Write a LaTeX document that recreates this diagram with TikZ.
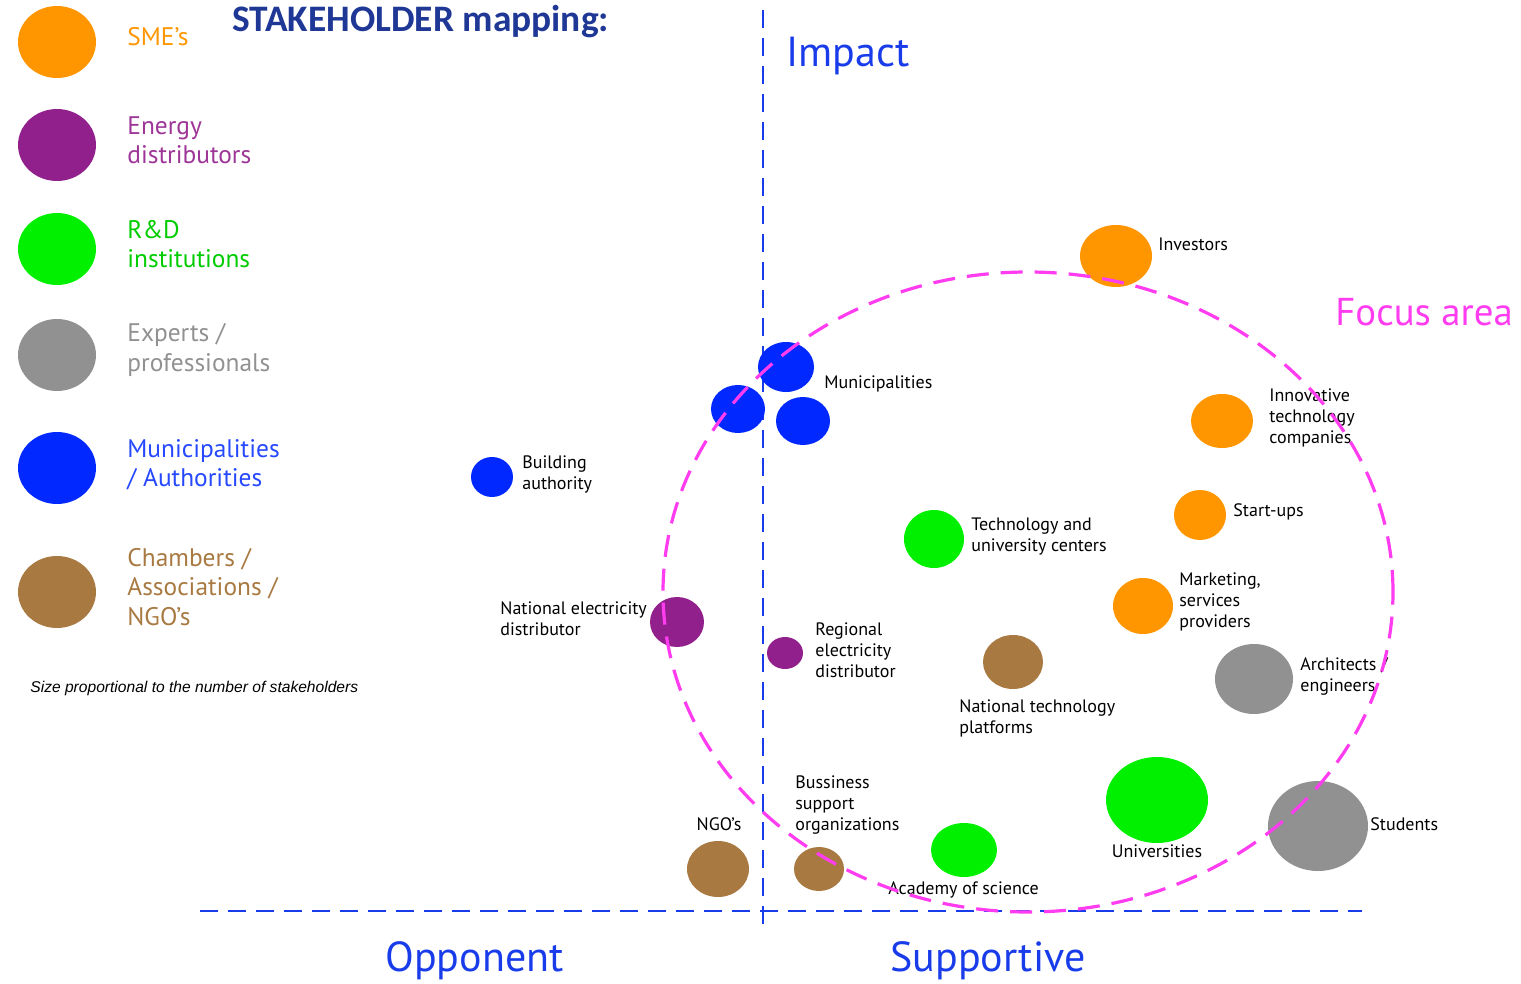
\documentclass[tikz,border=0pt]{standalone}
\usepackage{fontspec}
\setmainfont{PT Sans}
\newfontfamily\titlefont{Carlito}
\newfontfamily\notefont{Liberation Sans}
\usetikzlibrary{shapes.geometric,positioning}
\definecolor{smeorange}{RGB}{255,150,0}
\definecolor{enpurple}{RGB}{146,32,140}
\definecolor{rdgreen}{RGB}{0,240,0}
\definecolor{expgray}{RGB}{145,145,145}
\definecolor{munblue}{RGB}{0,40,255}
\definecolor{chbrown}{RGB}{168,122,66}
\definecolor{axisblue}{RGB}{25,60,235}
\definecolor{titleblue}{RGB}{31,56,150}
\definecolor{focusmag}{RGB}{255,60,240}
\tikzset{
  bub/.style={ellipse, inner sep=0pt, fill=#1},
  sz/.style 2 args={minimum width=#1pt, minimum height=#2pt},
  lbl/.style={anchor=west, align=left, inner sep=0pt, font=\fontsize{9}{10.5}\selectfont},
  legtxt/.style={anchor=west, align=left, inner sep=0pt, text=#1, font=\fontsize{12.7}{14.7}\selectfont},
  axtxt/.style={anchor=west, inner sep=0pt, text=axisblue, font=\fontsize{21}{24}\selectfont},
  axisline/.style={axisblue, line width=1.4pt, dash pattern=on 9pt off 5pt},
}
\begin{document}
\begin{tikzpicture}[x=0.5pt,y=-0.5pt]
\useasboundingbox (0,0) rectangle (1521,984);
% legend
\node[bub=smeorange, sz={39}{36}] (lgsme) at (57,42) {};
\node[bub=enpurple, sz={39}{36}] (lgen) at (57,145) {};
\node[bub=rdgreen, sz={39}{36}] (lgrd) at (57,249) {};
\node[bub=expgray, sz={39}{36}] (lgexp) at (57,355) {};
\node[bub=munblue, sz={39}{36}] (lgmun) at (57,468) {};
\node[bub=chbrown, sz={39}{36}] (lgch) at (57,592) {};
\node[legtxt=smeorange] (tsme) at (127,37) {SME’s};
\node[legtxt=enpurple!90!white] (ten) at (127,140) {Energy\\distributors};
\node[legtxt=rdgreen!85!black] (trd) at (127,244) {R\&D\\institutions};
\node[legtxt=expgray] (texp) at (127,350) {Experts /\\professionals};
\node[legtxt=munblue!85!white] (tmun) at (127,465) {Municipalities\\/ Authorities};
\node[legtxt=chbrown] (tch) at (127,587) {Chambers /\\Associations /\\NGO’s};
\node[anchor=west, inner sep=0pt, font=\notefont\itshape\fontsize{7.8}{9}\selectfont] (note) at (30,688) {Size proportional to the number of stakeholders};
\node[anchor=west, inner sep=0pt, text=titleblue, font=\titlefont\bfseries\fontsize{18.7}{21}\selectfont] (title) at (232,22) {STAKEHOLDER mapping:};
% axes
\draw[axisline] (763,10) -- (763,930);
\draw[axisline] (200,911) -- (1362,911);
\node[axtxt] (impact) at (786,56) {Impact};
\node[axtxt] (opp) at (385,961) {Opponent};
\node[axtxt] (sup) at (890,961) {Supportive};
% stakeholders
\node[bub=smeorange, sz={36}{31}] (inv) at (1116,256) {};
\node[bub=munblue, sz={28}{25}] (mun1) at (786,367) {};
\node[bub=munblue, sz={27}{24}] (mun2) at (738,409) {};
\node[bub=munblue, sz={27}{24}] (mun3) at (803,421) {};
\node[bub=smeorange, sz={31}{27}] (itc) at (1222,421) {};
\node[bub=smeorange, sz={26}{25}] (stu) at (1200,515) {};
\node[bub=munblue, sz={21}{20}] (bld) at (492,477) {};
\node[bub=rdgreen, sz={30}{29}] (tuc) at (934,539) {};
\node[bub=smeorange, sz={30}{28}] (mkt) at (1143,606) {};
\node[bub=enpurple, sz={27}{25}] (ned) at (677,622) {};
\node[bub=enpurple, sz={18}{16}] (red) at (785,653) {};
\node[bub=chbrown, sz={30}{27}] (ntp) at (1013,662) {};
\node[bub=expgray, sz={39}{35}] (arch) at (1254,679) {};
\node[bub=rdgreen, sz={51}{43}] (univ) at (1157,800) {};
\node[bub=expgray, sz={50}{45}] (stud) at (1318,826) {};
\node[bub=chbrown, sz={31}{28}] (ngo) at (718,869) {};
\node[bub=chbrown, sz={25}{22}] (bso) at (819,869) {};
\node[bub=rdgreen, sz={33}{27}] (acad) at (964,850) {};
\node[lbl] at (1158,244) {Investors};
\node[lbl] at (824,384) {Municipalities};
\node[lbl] at (1269,418) {Innovative\\technology\\companies};
\node[lbl] at (1233,512) {Start-ups};
\node[lbl] at (522,474) {Building\\authority};
\node[lbl] at (971,537) {Technology and\\university centers};
\node[lbl] at (1179,602) {Marketing,\\services\\providers};
\node[lbl] at (500,619) {National electricity\\distributor};
\node[lbl] at (815,650) {Regional\\electricity\\distributor};
\node[lbl] at (959,718) {National technology\\platforms};
\node[lbl] at (1300,676) {Architects /\\engineers};
\node[lbl, anchor=center] at (1157,851) {Universities};
\node[lbl] at (1370,824) {Students};
\node[lbl, anchor=center] at (719,824) {NGO’s};
\node[lbl] at (795,805) {Bussiness\\support\\organizations};
\node[lbl] at (888,890) {Academy of science};
% focus area
\node[ellipse, draw=focusmag, line width=1.6pt, dash pattern=on 11pt off 6pt, minimum width=365pt, minimum height=320pt, inner sep=0pt] (focus) at (1028,592) {};
\node[anchor=west, inner sep=0pt, text=focusmag, font=\fontsize{19.4}{22}\selectfont] (ftxt) at (1335,312) {Focus area};
\end{tikzpicture}
\end{document}
